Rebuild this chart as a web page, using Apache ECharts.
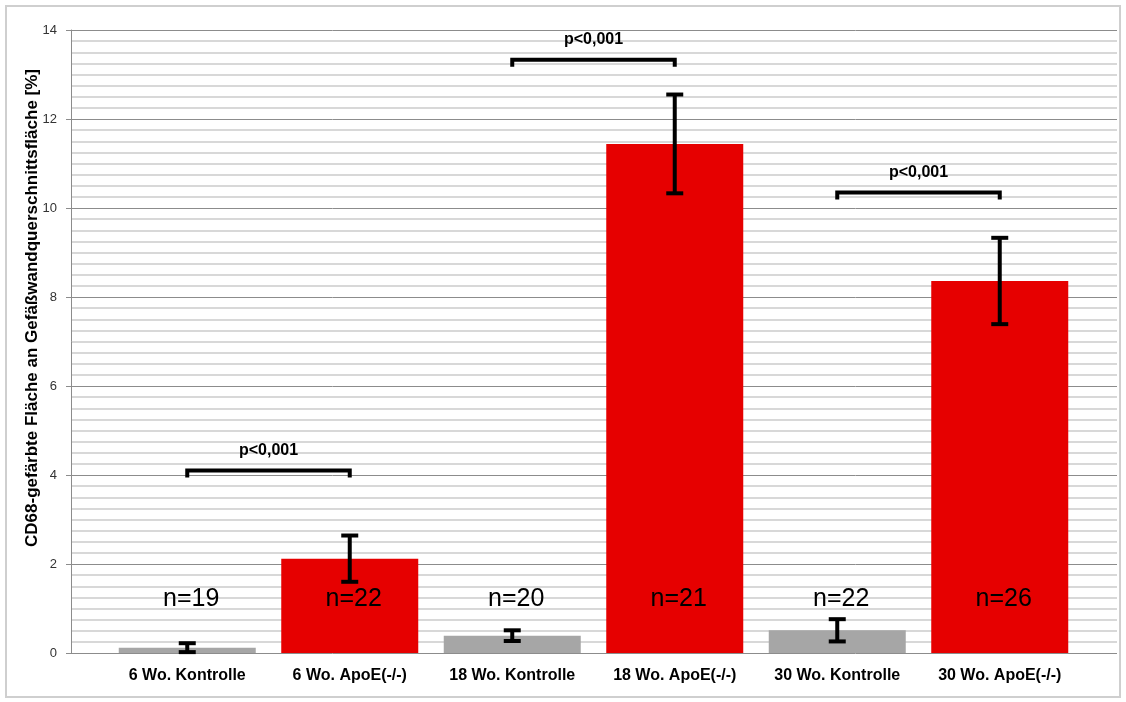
<!DOCTYPE html>
<html>
<head>
<meta charset="utf-8">
<script src="https://cdn.jsdelivr.net/npm/echarts@6/dist/echarts.min.js"></script>
<style>
html,body{margin:0;padding:0;background:#fff;}
#chart{width:1126px;height:702px;}
</style>
</head>
<body>
<div id="chart"></div>
<script>
// ---- data ----
const categories = ['6 Wo. Kontrolle', '6 Wo. ApoE(-/-)', '18 Wo. Kontrolle', '18 Wo. ApoE(-/-)', '30 Wo. Kontrolle', '30 Wo. ApoE(-/-)'];
const means = [0.12, 2.12, 0.39, 11.44, 0.51, 8.36];
const errors = [0.10, 0.52, 0.12, 1.11, 0.25, 0.97];
const nLabels = ['n=19', 'n=22', 'n=20', 'n=21', 'n=22', 'n=26'];
const barColors = ['#a6a6a6', '#e60000', '#a6a6a6', '#e60000', '#a6a6a6', '#e60000'];
// significance brackets: [fromCategoryIndex, toCategoryIndex, value]
const brackets = [[0, 1, 4.1], [2, 3, 13.33], [4, 5, 10.35]];
const bracketLabels = ['p<0,001', 'p<0,001', 'p<0,001'];
const yTicks = { min: 0, max: 14, interval: 2 };
const yTitle = 'CD68-gefärbte Fläche an Gefäßwandquerschnittsfläche [%]';
const nLabelValue = 1.2;

const FONT = '"Liberation Sans", Arial, sans-serif';

const chart = echarts.init(document.getElementById('chart'), null, { renderer: 'canvas' });

const option = {
  animation: false,
  backgroundColor: '#ffffff',
  graphic: [{
    type: 'rect',
    shape: { x: 6, y: 6, width: 1114, height: 691 },
    style: { fill: 'none', stroke: '#cfcfcf', lineWidth: 2 },
    silent: true
  }, {
    type: 'text',
    x: 32, y: 308, rotation: Math.PI / 2,
    style: {
      text: yTitle, font: 'bold 17px ' + FONT, fill: '#000',
      textAlign: 'center', textVerticalAlign: 'middle'
    },
    silent: true
  }],
  grid: [
    { left: 71, right: 9, top: 30, bottom: 49 },
    { left: 106, right: 45, top: 30, bottom: 49 }
  ],
  xAxis: [
    { gridIndex: 0, type: 'value', min: 0, max: 1, show: false },
    {
      gridIndex: 1, type: 'category', data: categories,
      axisLine: { show: false }, axisTick: { show: false },
      axisLabel: { interval: 0, hideOverlap: false, color: '#000', fontFamily: FONT, fontWeight: 'bold', fontSize: 16, margin: 15 }
    }
  ],
  yAxis: [
    {
      gridIndex: 0, type: 'value', min: yTicks.min, max: yTicks.max, interval: yTicks.interval,
      axisLine: { show: true, lineStyle: { color: '#8c8c8c', width: 1 } },
      axisTick: { show: true, length: 5, lineStyle: { color: '#8c8c8c' } },
      axisLabel: { color: '#333', fontFamily: FONT, fontSize: 13, margin: 14 },
      splitLine: { show: true, lineStyle: { color: '#8c8c8c', width: 1 } },
      minorTick: { show: false, splitNumber: 8 },
      minorSplitLine: { show: true, lineStyle: { color: '#cccccc', width: 1.5 } }
    },
    {
      gridIndex: 1, type: 'value', min: yTicks.min, max: yTicks.max, interval: yTicks.interval,
      show: false, splitLine: { show: false }
    }
  ],
  series: [
    {
      type: 'bar', xAxisIndex: 1, yAxisIndex: 1, barWidth: 137,
      data: means.map((v, i) => ({ value: v, itemStyle: { color: barColors[i] } })),
      z: 2
    },
    {
      type: 'custom', xAxisIndex: 1, yAxisIndex: 1, z: 5,
      data: means.map((m, i) => [i, m - errors[i], m + errors[i]]),
      renderItem: function (params, api) {
        const lo = api.coord([api.value(0), api.value(1)]);
        const hi = api.coord([api.value(0), api.value(2)]);
        const hw = 8.5;
        const st = { stroke: '#000', lineWidth: 4, fill: null };
        return {
          type: 'group',
          children: [
            { type: 'line', shape: { x1: lo[0], y1: lo[1], x2: hi[0], y2: hi[1] }, style: st },
            { type: 'line', shape: { x1: lo[0] - hw, y1: lo[1], x2: lo[0] + hw, y2: lo[1] }, style: st },
            { type: 'line', shape: { x1: hi[0] - hw, y1: hi[1], x2: hi[0] + hw, y2: hi[1] }, style: st }
          ]
        };
      }
    },
    {
      type: 'custom', xAxisIndex: 1, yAxisIndex: 1, z: 6,
      data: nLabels.map((t, i) => [i, nLabelValue]),
      renderItem: function (params, api) {
        const p = api.coord([api.value(0), api.value(1)]);
        return {
          type: 'text',
          style: {
            x: p[0] + 4, y: p[1], text: nLabels[params.dataIndex],
            font: '25px ' + FONT, fill: '#000', textAlign: 'center', textVerticalAlign: 'middle'
          }
        };
      }
    },
    {
      type: 'custom', xAxisIndex: 1, yAxisIndex: 1, z: 6,
      data: brackets,
      renderItem: function (params, api) {
        const a = api.coord([api.value(0), api.value(2)]);
        const b = api.coord([api.value(1), api.value(2)]);
        const drop = 7;
        return {
          type: 'group',
          children: [
            {
              type: 'polyline',
              shape: { points: [[a[0], a[1] + drop], [a[0], a[1]], [b[0], b[1]], [b[0], b[1] + drop]] },
              style: { stroke: '#000', lineWidth: 4, fill: null, lineJoin: 'miter' }
            },
            {
              type: 'text',
              style: {
                x: (a[0] + b[0]) / 2, y: a[1] - 20, text: bracketLabels[params.dataIndex],
                font: 'bold 16px ' + FONT, fill: '#000', textAlign: 'center', textVerticalAlign: 'middle'
              }
            }
          ]
        };
      }
    }
  ]
};
chart.setOption(option);
</script>
</body>
</html>
